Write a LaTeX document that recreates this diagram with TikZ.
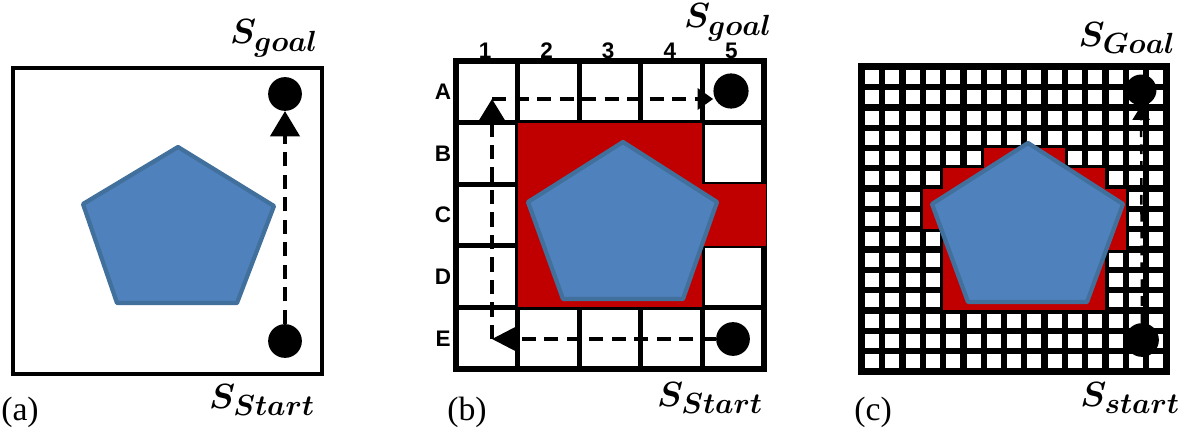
\documentclass[tikz,border=0pt]{standalone}
\usepackage{amsmath,amssymb}
\usepackage{fontspec}
\setmainfont{Liberation Serif}
\newfontfamily\cellfont{Liberation Sans}
\usepackage{xcolor}
\usepackage{tikz}
\usetikzlibrary{arrows.meta,positioning,calc}

\definecolor{obstblue}{HTML}{4F81BD}
\definecolor{obstedge}{HTML}{41709C}
\definecolor{costred}{HTML}{C00000}
\newcommand{\stlabel}[1]{$\boldsymbol{S_{#1}}$}

\begin{document}
\begin{tikzpicture}[x=0.025cm,y=-0.025cm,
    obst/.style={fill=obstblue,draw=obstedge,line width=3pt,line join=round},
    blocked/.style={fill=costred},
    cell/.style={draw,line width=3.6pt},
    dot/.style={circle,fill=black,inner sep=0pt,minimum size=24pt},
    route/.style={line width=2.2pt,dash pattern=on 10pt off 6pt},
    st/.style={inner sep=0pt,font=\fontsize{31}{31}\selectfont},
    tag/.style={inner sep=0pt,font=\fontsize{24}{24}\selectfont},
    idx/.style={inner sep=0pt,font=\cellfont\bfseries\fontsize{16}{16}\selectfont}]
  \useasboundingbox (0,0) rectangle (1188,432);

  % (a) free space
  \draw[line width=2.6pt] (13,68) rectangle (322,374);
  \draw[obst] (178,147) -- (274,206) -- (237,303) -- (117,303) -- (83,204) -- cycle;
  \node[dot] (goalA) at (285,94) {};
  \node[dot] (startA) at (285,341) {};
  \draw[route,-{Triangle[length=18pt,width=21pt]}] (startA) -- (goalA);
  \node[st] (goalAlab) at (274,38) {\stlabel{goal}};
  \node[st] (startAlab) at (262,400) {\stlabel{Start}};
  \node[tag] (tagA) at (20,412) {(a)};

  % (b) coarse grid
  \foreach \i in {0,...,4}
    \foreach \j in {0,...,4}
      \draw[cell] ({456+61.6*\i},{61+61.6*\j}) rectangle +(61.6,61.6);
  \fill[blocked] (517.6,122.6) rectangle (701.8,307.4);
  \fill[blocked] (701.8,184.2) rectangle (766,246);
  \draw[obst] (623,142) -- (717,202) -- (683,299) -- (563,299) -- (528,202) -- cycle;
  \foreach \n [count=\i from 0] in {1,...,5}
    \node[idx] (col\n) at ({485+61.6*\i},51) {\n};
  \foreach \r [count=\j from 0] in {A,...,E}
    \node[idx] (row\r) at (443,{92+61.6*\j}) {\r};
  \node[dot,minimum size=25pt] (goalB) at (731,91) {};
  \node[dot] (startB) at (733,339) {};
  \coordinate (turnE) at (492,339);
  \coordinate (turnA) at (492,99);
  \draw[route,-{Triangle[length=18pt,width=18pt]}] (startB) -- (turnE);
  \draw[route,-{Triangle[length=16pt,width=19pt]}] (turnE) -- (turnA);
  \draw[route,-{Triangle[length=11pt,width=15pt]}] (turnA) -- (goalB.west |- turnA);
  \node[st,anchor=south,font=\fontsize{28}{28}\selectfont] (goalBlab) at (728,41) {\stlabel{goal}};
  \node[st] (startBlab) at (710,398) {\stlabel{Start}};
  \node[tag] (tagB) at (467,412) {(b)};

  % (c) fine grid
  \fill (858,63) rectangle (1170,375);
  \foreach \i in {0,...,14}
    \foreach \j in {0,...,14}
      \fill[white] ({865+20.3*\i},{70+20.3*\j}) rectangle +(14,14);
  \foreach \r/\a/\b in {4/6/9,5/4/11,6/3/12,7/3/12,8/4/12,9/4/11,10/4/11,11/4/11}
    \fill[blocked] ({861.85+20.3*\a},{66.85+20.3*\r}) rectangle ({861.85+20.3*(\b+1)},{66.85+20.3*(\r+1)});
  \draw[obst] (1028,143) -- (1123,204) -- (1087,302) -- (968,302) -- (932,204) -- cycle;
  \node[dot,minimum size=22pt] (goalC) at (1141,90) {};
  \node[dot] (startC) at (1142,340) {};
  \draw[line width=1.8pt,dash pattern=on 7pt off 5pt,-{Triangle[length=10pt,width=12pt]}] (startC) -- (goalC);
  \node[st] (goalClab) at (1127,38) {\stlabel{Goal}};
  \node[st] (startClab) at (1130,398) {\stlabel{start}};
  \node[tag] (tagC) at (873,412) {(c)};
\end{tikzpicture}
\end{document}
